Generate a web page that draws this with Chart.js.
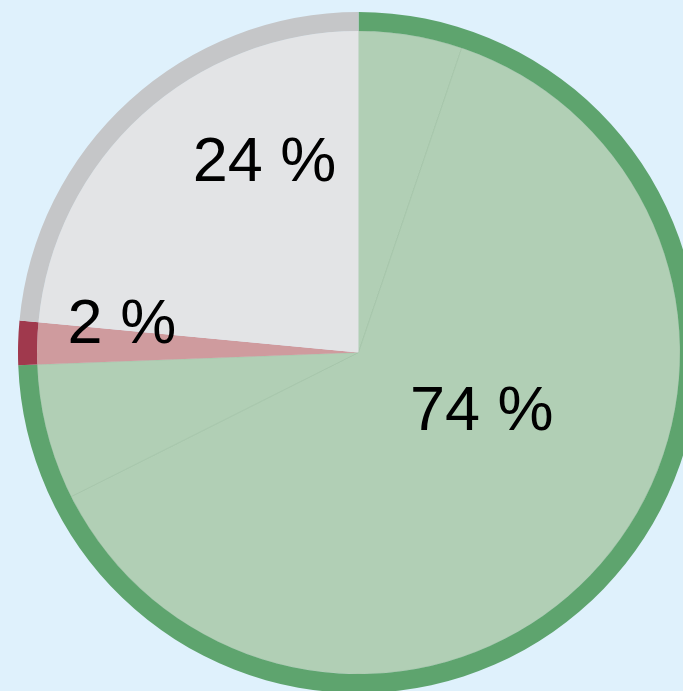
<!DOCTYPE html>
<html>
<head>
<meta charset="utf-8">
<script src="https://cdn.jsdelivr.net/npm/chart.js@4"></script>
<style>
  html, body { margin: 0; padding: 0; width: 683px; height: 691px; overflow: hidden; background: #dff1fc; }
  #pie { position: absolute; left: 18px; top: 12px; }
</style>
</head>
<body>
<canvas id="pie" width="681" height="681"></canvas>
<script>
// Share of each group, in percent (labels show them rounded)
const groups = ['Grün', 'Rot', 'Grau'];
const shares = [74.4, 2.1, 23.5];

// The green share is filled in three pieces (they add up to 74.4)
const fillParts = [5.2, 62.4, 6.8, 2.1, 23.5];

const ringColors = ['#5ea46e', '#a0394d', '#c5c6c8'];
const fillColors = ['#b1cfb5', '#b1cfb5', '#b1cfb5', '#cf9b9e', '#e3e4e6'];

// where each percentage sits: t = position along the slice, r = fraction of radius
const labelSpots = [
    { t: 0.43, r: 0.40 },
    { t: 1.2, r: 0.70 },
    { t: 0.69, r: 0.625 }
];

const pieLabels = {
    id: 'pieLabels',
    afterDatasetsDraw(chart) {
        const ctx = chart.ctx;
        const arcs = chart.getDatasetMeta(0).data;
        ctx.save();
        ctx.font = '63px "Liberation Sans", Arial, sans-serif';
        ctx.fillStyle = '#000';
        ctx.textAlign = 'center';
        ctx.textBaseline = 'middle';
        arcs.forEach((arc, i) => {
            const { x, y, startAngle, endAngle, outerRadius } = arc.getProps(['x', 'y', 'startAngle', 'endAngle', 'outerRadius'], true);
            const spot = labelSpots[i];
            const a = startAngle + (endAngle - startAngle) * spot.t;
            const r = outerRadius * spot.r;
            ctx.fillText(Math.round(shares[i]) + ' %', x + Math.cos(a) * r, y + Math.sin(a) * r + 2);
        });
        ctx.restore();
    }
};

new Chart(document.getElementById('pie'), {
    type: 'pie',
    data: {
        labels: groups,
        datasets: [{
            // thin darker rim
            data: shares,
            backgroundColor: ringColors,
            borderWidth: 0,
            weight: 19
        }, {
            data: fillParts,
            backgroundColor: fillColors,
            borderColor: '#9fbfa3',
            borderWidth: [0.6, 0.6, 0.6, 0, 0],
            weight: 321
        }]
    },
    options: {
        responsive: false,
        animation: false,
        layout: { padding: 0 },
        plugins: {
            legend: { display: false },
            tooltip: { enabled: false }
        }
    },
    plugins: [pieLabels]
});
</script>
</body>
</html>
